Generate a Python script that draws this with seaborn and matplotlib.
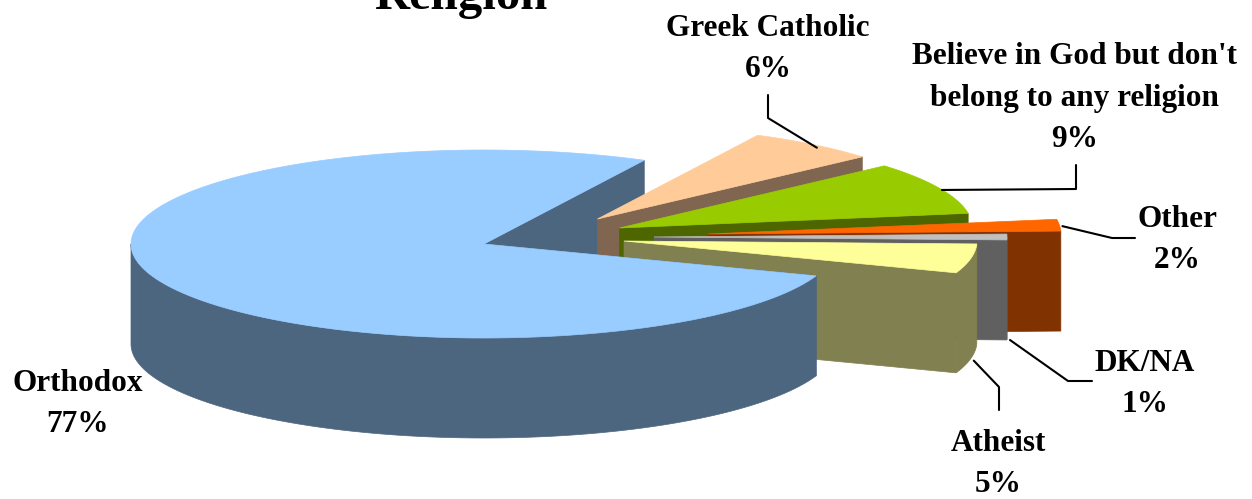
import numpy as np
import pandas as pd
import seaborn as sns
import matplotlib.pyplot as plt

# values
labels = ['Orthodox', 'Greek Catholic', "Believe in God but don't\nbelong to any religion", 'Other', 'DK/NA', 'Atheist']
values = [77, 6, 9, 2, 1, 5]

# colours
top_colors = ['#99CCFF', '#FFCC99', '#99CC00', '#FF6600', '#C0C0C0', '#FFFF99']
side_colors = ['#4D6680', '#806650', '#4D6600', '#803300', '#606060', '#808050']

# layout, in pixels of the 1252x499 picture
centers_x = [484, 597.5, 619.5, 708, 654, 624]
centers_y = [244, 219, 228, 234, 237, 241]
label_x = [78, 768, 1075, 1177, 1145, 998]
label_y = [404, 49, 98, 240, 384, 464]
rx, ry, depth = 353, 94, 100
first_angle = 63


def arc(cx, cy, a1, a2, drop=0):
    t = np.radians(np.linspace(a1, a2, 240))
    return cx + rx * np.cos(t), cy - ry * np.sin(t) + drop


def draw_face(ax, cx, cy, a, side):
    ex, ey = arc(cx, cy, a, a)
    ax.fill([cx, ex[0], ex[0], cx], [cy, ey[0], ey[0] + depth, cy + depth], color=side, lw=0.5)


def draw_rim(ax, cx, cy, a1, a2, side):
    if a2 - a1 <= 0:
        return
    x, y = arc(cx, cy, a1, a2)
    x2, y2 = arc(cx, cy, a2, a1, depth)
    ax.fill(np.r_[x, x2], np.r_[y, y2], color=side, lw=0.5)


def draw_top(ax, cx, cy, a1, a2, top):
    x, y = arc(cx, cy, a1, a2)
    ax.fill(np.r_[cx, x], np.r_[cy, y], color=top, lw=0.5)


def main():
    sns.set_theme(style='white')
    plt.rcParams['font.family'] = ['Liberation Serif', 'DejaVu Serif']
    fig, ax = plt.subplots(figsize=(12.52, 4.99), dpi=100)
    ax.set_position([0, 0, 1, 1])

    df = pd.DataFrame({'label': labels, 'value': values, 'top': top_colors, 'side': side_colors,
                       'cx': centers_x, 'cy': centers_y})
    sweep = df['value'] / df['value'].sum() * 360
    # Orthodox runs anticlockwise from first_angle, the others clockwise from it
    orth_end = first_angle + sweep[0]
    df['a2'] = first_angle - (sweep.cumsum() - sweep[0]) + sweep
    df['a1'] = df['a2'] - sweep
    df['mid'] = (df['a1'] + df['a2']) / 2

    # Orthodox back cut face goes first, the exploded slices lie over it
    o = df.iloc[0]
    draw_face(ax, o.cx, o.cy, first_angle, o.side)

    for i in range(1, len(df)):
        r = df.iloc[i]
        draw_face(ax, r.cx, r.cy, r.a1, r.side)
        draw_rim(ax, r.cx, r.cy, r.a1, min(r.a2, 0), r.side)
        draw_top(ax, r.cx, r.cy, r.a1, r.a2, r.top)

    draw_face(ax, o.cx, o.cy, orth_end, o.side)
    draw_rim(ax, o.cx, o.cy, 180, orth_end, o.side)
    draw_top(ax, o.cx, o.cy, first_angle, orth_end, o.top)

    # leader lines start on the slice they belong to
    elbows = {1: [(768, 118), (768, 95)],
              2: [(1076, 189), (1076, 165)],
              3: [(1112, 238), (1135, 238)],
              4: [(1068, 381), (1092, 381)],
              5: [(999, 387), (999, 410)]}
    drops = {1: 3, 2: 2, 3: 1, 4: depth + 3, 5: depth + 2}
    for i, pts in elbows.items():
        r = df.iloc[i]
        sx, sy = arc(r.cx, r.cy, r.mid, r.mid, drops[i])
        xs = [sx[0] + 3] + [p[0] for p in pts]
        ys = [sy[0]] + [p[1] for p in pts]
        line = pd.DataFrame({'x': xs, 'y': ys})
        sns.lineplot(data=line, x='x', y='y', sort=False, estimator=None, color='black', lw=1.5, ax=ax)

    ax.axis('off')
    ax.set_xlim(0, 1252)
    ax.set_ylim(499, 0)

    for i, r in df.iterrows():
        ax.text(label_x[i], label_y[i], f'{r.label}\n{r.value}%', ha='center', va='center',
                fontsize=22.5, fontweight='bold', color='black', linespacing=1.55, multialignment='center')

    ax.text(461, 9, 'Religion', ha='center', va='baseline', fontsize=35, fontweight='bold', color='black')

    plt.savefig('out.png', dpi=100)
    plt.close()


if __name__ == '__main__':
    main()
